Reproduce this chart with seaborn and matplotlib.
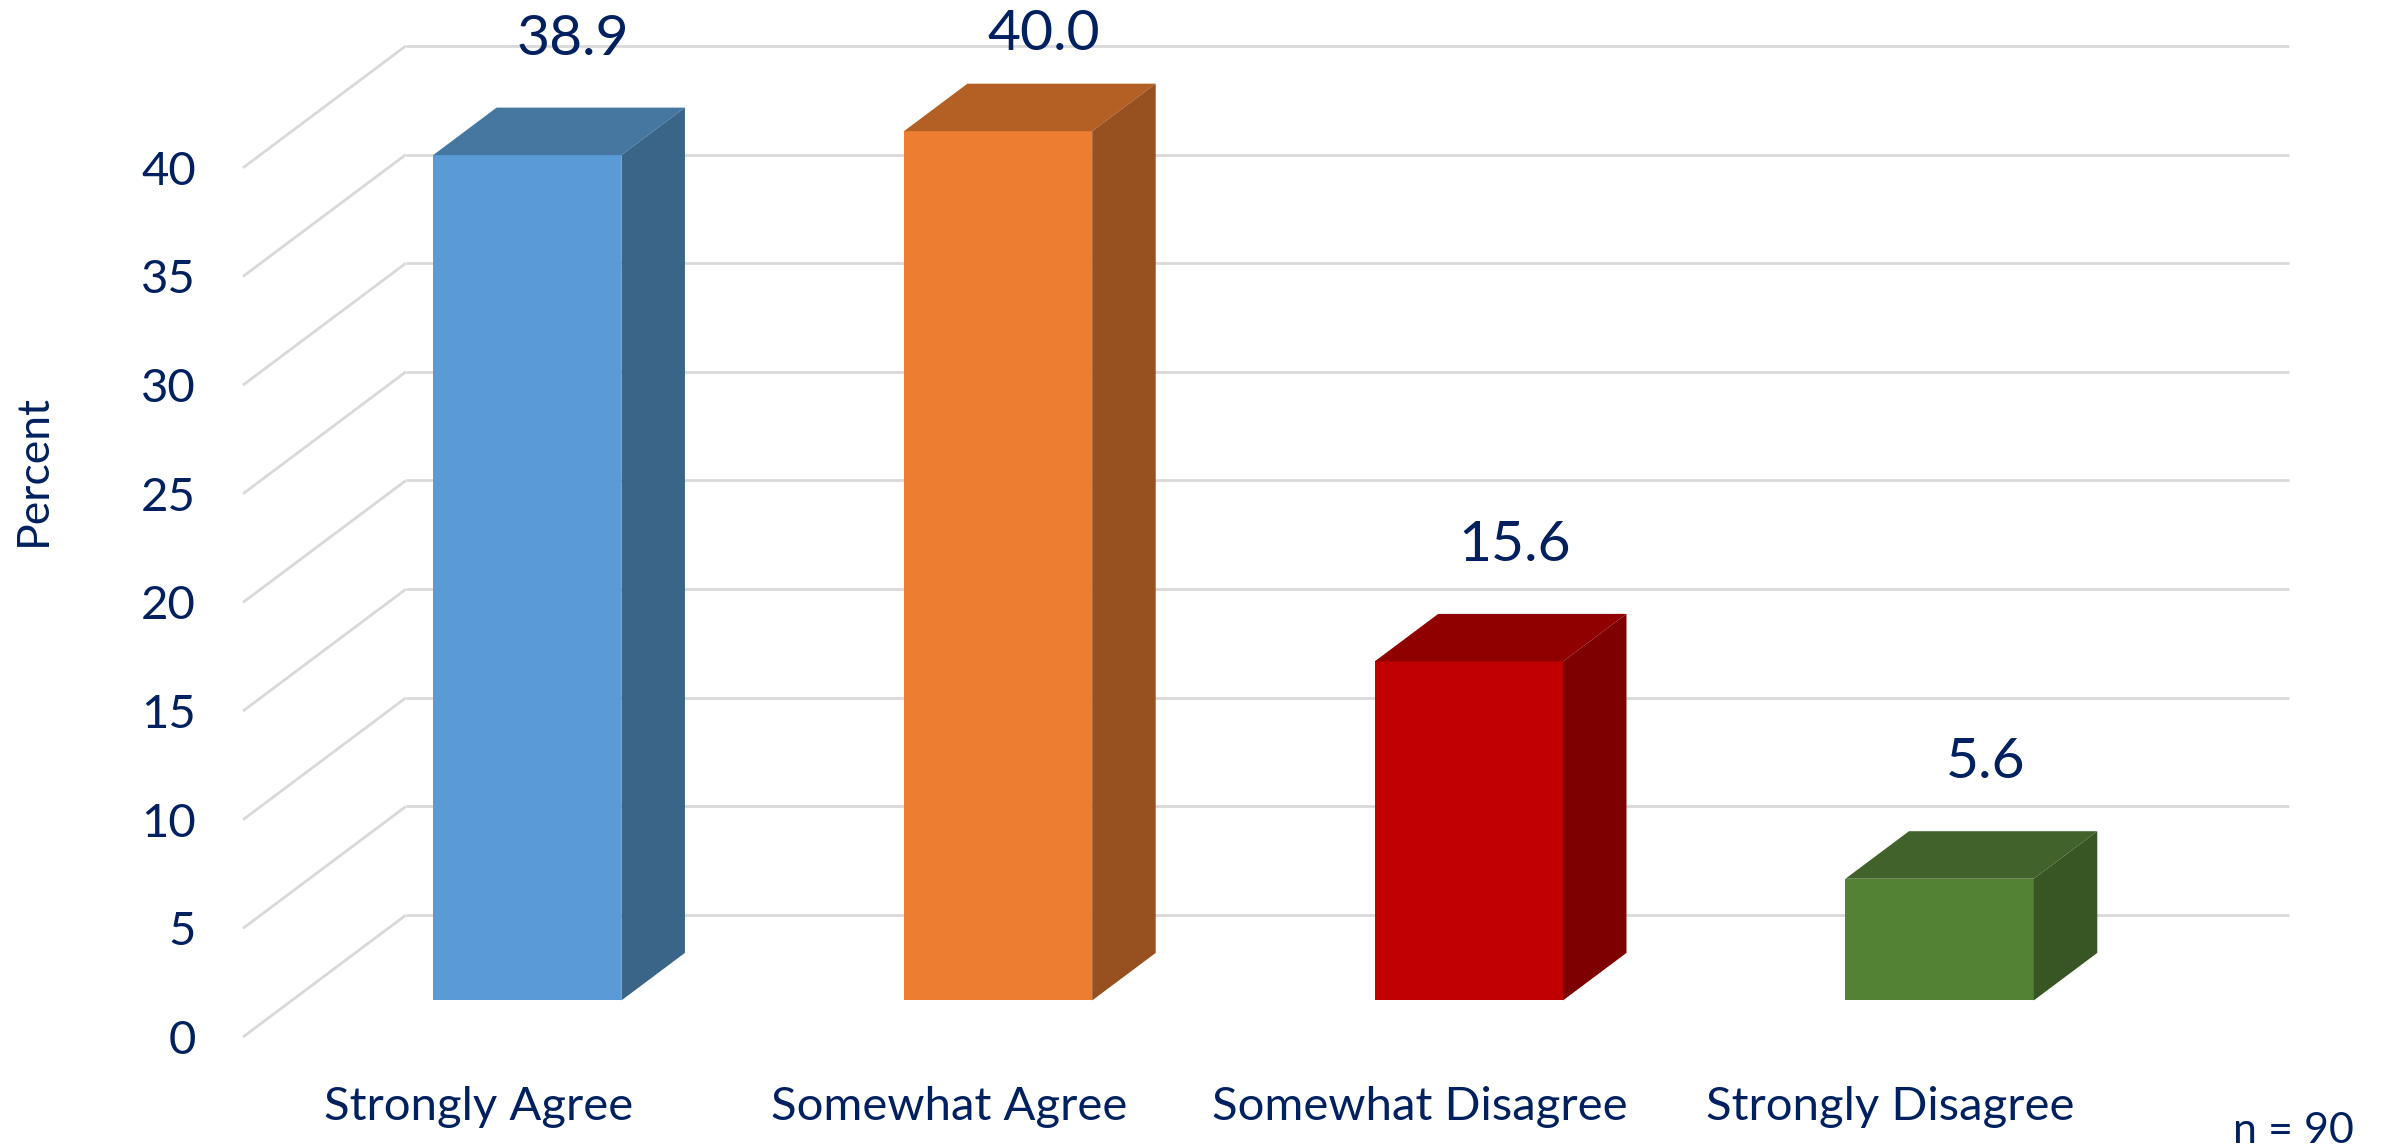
import matplotlib.pyplot as plt
import seaborn as sns
from matplotlib.patches import Polygon

categories = ["Strongly Agree", "Somewhat Agree", "Somewhat Disagree", "Strongly Disagree"]
percent = [38.9, 40.0, 15.6, 5.6]
y_ticks = [0, 5, 10, 15, 20, 25, 30, 35, 40]

front_colors = ["#5B9BD5", "#ED7D31", "#C00000", "#548235"]
top_colors = ["#4677A1", "#B45F23", "#900000", "#41622A"]
side_colors = ["#3A6588", "#97501F", "#7F0000", "#375623"]

navy = "#002060"
grid = "#D9D9D9"

# fake 3d: oblique depth of the floor in (category, percent) units
depth_x = 0.346
depth_y = 5.61
front_t = 0.3   # floor front edge in front of the bar faces
back_t = 0.7    # back wall behind the bar faces
bar_t = 0.39    # how deep a bar is
bar_w = 0.4

sns.set_style("white")
plt.rcParams["font.family"] = ["Lato", "DejaVu Sans"]

W, H = 2391, 1146
fig = plt.figure(figsize=(W / 100, H / 100), dpi=100)
ax = fig.add_axes([243 / W, 109 / H, 2046 / W, 1037 / H])

sns.barplot(x=categories, y=percent, hue=categories, palette=front_colors,
            width=bar_w, saturation=1, legend=False, linewidth=0, ax=ax, zorder=2)

n = len(categories)
left = -0.5
right = n - 0.5

ax.set_xlim(left - front_t * depth_x, right + back_t * depth_x)
ax.set_ylim(-front_t * depth_y, -front_t * depth_y + 1037 / 21.73)

# back wall and left side wall gridlines
for t in y_ticks:
    ax.plot([left - front_t * depth_x, left + back_t * depth_x],
            [t - front_t * depth_y, t + back_t * depth_y],
            color=grid, lw=2, zorder=0, clip_on=False, solid_capstyle="butt")
    ax.plot([left + back_t * depth_x, right + back_t * depth_x],
            [t + back_t * depth_y, t + back_t * depth_y],
            color=grid, lw=2, zorder=0, clip_on=False, solid_capstyle="butt")

# top and side faces of each bar, value label floating above
bdx = bar_t * depth_x
bdy = bar_t * depth_y
for i, p in enumerate(ax.patches[:n]):
    x0 = p.get_x()
    w = p.get_width()
    h = p.get_height()
    top = Polygon([(x0, h), (x0 + w, h), (x0 + w + bdx, h + bdy), (x0 + bdx, h + bdy)],
                  closed=True, facecolor=top_colors[i], edgecolor="none", zorder=2)
    side = Polygon([(x0 + w, 0), (x0 + w, h), (x0 + w + bdx, h + bdy), (x0 + w + bdx, bdy)],
                   closed=True, facecolor=side_colors[i], edgecolor="none", zorder=2)
    ax.add_patch(top)
    ax.add_patch(side)

    # keep the label inside the figure, like excel does
    px, py = ax.transData.transform((x0 + w / 2 + 0.28 * depth_x, h + bdy / 2))
    py = min(py + 92, H - 34)
    lx, ly = ax.transData.inverted().transform((px, py))
    ax.text(lx, ly, f"{h:.1f}", ha="center", va="center", fontsize=41,
            color=navy, clip_on=False)

ax.set_xticks([i - front_t * depth_x for i in range(n)], labels=categories)
ax.set_yticks([t - front_t * depth_y for t in y_ticks], labels=[str(t) for t in y_ticks])
ax.tick_params(axis="x", length=0, pad=35, labelsize=34, labelcolor=navy)
ax.tick_params(axis="y", length=0, pad=34, labelsize=34, labelcolor=navy)

ax.set_xlabel("")
ax.set_ylabel("Percent", fontsize=32, color=navy, va="center")
ax.yaxis.set_label_coords((33 - 243) / 2046, (1037 - 470) / 1037)

sns.despine(ax=ax, left=True, bottom=True)
ax.patch.set_alpha(0)

fig.text(2354 / W, 1 - 1143 / H, "n = 90", ha="right", va="baseline",
         fontsize=31, color=navy)

fig.savefig("out.png", dpi=100)
